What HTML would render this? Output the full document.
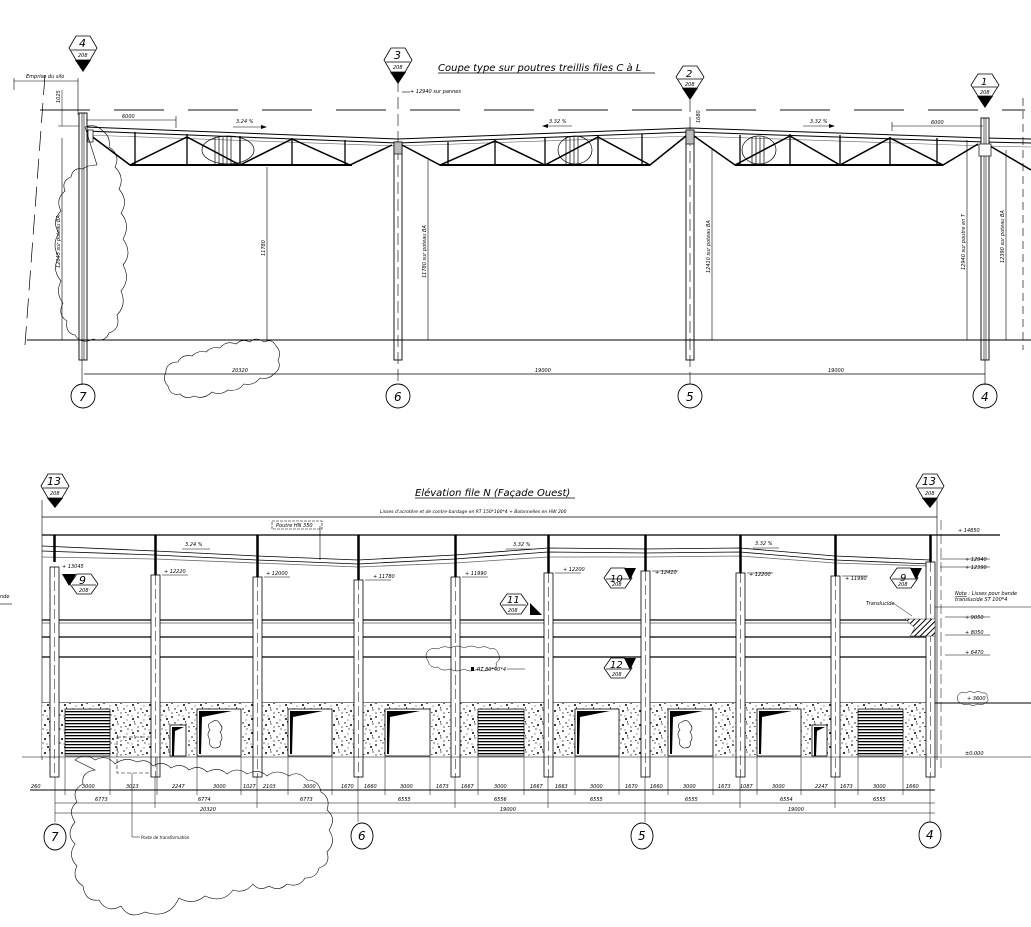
<!DOCTYPE html>
<html><head><meta charset="utf-8"><style>
html,body{margin:0;padding:0;background:#fff;width:1031px;height:927px;overflow:hidden}
svg{display:block}
text{font-family:"DejaVu Sans","Liberation Sans",sans-serif;font-style:italic;fill:#000}
.s{font-size:5px}.m{font-size:7px}
</style></head><body>
<svg width="1031" height="927" viewBox="0 0 1031 927" xmlns="http://www.w3.org/2000/svg">
<defs>
<pattern id="conc" width="17" height="14" patternUnits="userSpaceOnUse">
<rect width="17" height="14" fill="#fff"/>
<g fill="#000"><circle cx="2" cy="3" r=".9"/><circle cx="9" cy="1" r=".6"/><circle cx="14" cy="5" r="1"/><circle cx="5" cy="9" r=".7"/><circle cx="11" cy="11" r="1"/><circle cx="16" cy="10" r=".6"/><circle cx="2" cy="13" r=".6"/><circle cx="8" cy="6" r=".5"/><circle cx="13" cy="2" r=".5"/><rect x="6" y="12" width="1.6" height=".7"/><rect x="15" y="7" width=".7" height="1.6"/></g>
</pattern>
<pattern id="shut" width="4" height="3" patternUnits="userSpaceOnUse"><rect width="4" height="3" fill="#fff"/><rect width="4" height="1.3" fill="#000"/></pattern>
<pattern id="hatch" width="4" height="4" patternUnits="userSpaceOnUse" patternTransform="rotate(45)"><rect width="4" height="4" fill="#fff"/><rect width="1" height="4" fill="#000"/></pattern>
</defs>

<text x="438" y="71" style="font-size:10px">Coupe type sur poutres treillis files C à L</text>
<line x1="438" y1="73" x2="655" y2="73" stroke="#000" stroke-width=".8"/>

<line x1="40" y1="110" x2="1025" y2="110" stroke="#444" stroke-width="1.2" stroke-dasharray="50,24"/>
<line x1="1023" y1="98" x2="1023" y2="350" stroke="#333" stroke-width=".8" stroke-dasharray="8,5"/>
<line x1="45" y1="75" x2="25" y2="345" stroke="#000" stroke-width=".7" stroke-dasharray="20,8"/>
<line x1="14" y1="81" x2="78" y2="81" stroke="#000" stroke-width=".6"/>
<line x1="14" y1="78" x2="14" y2="90" stroke="#000" stroke-width=".6"/>
<line x1="78" y1="78" x2="78" y2="115" stroke="#000" stroke-width=".6"/>
<text x="26" y="78" class="s">Emprise du silo</text>
<line x1="62" y1="90" x2="62" y2="126" stroke="#000" stroke-width=".5"/>
<text x="0" y="0" class="s" transform="translate(60,103) rotate(-90)">1025</text>
<line x1="58" y1="126" x2="90" y2="126" stroke="#000" stroke-width=".5"/>

<polyline points="85,127 398,139 690,128 985,138 1031,139" fill="none" stroke="#000" stroke-width="1"/>
<polyline points="85,131 398,143 690,132 985,142 1031,143" fill="none" stroke="#000" stroke-width="1"/>
<polyline points="85,135 398,146 690,136 985,146 1031,147" fill="none" stroke="#666" stroke-width=".6"/>
<g stroke="#000" stroke-width="2">
<line x1="130" y1="165" x2="352" y2="165"/><line x1="440" y1="165" x2="650" y2="165"/><line x1="735" y1="165" x2="943" y2="165"/>
</g>
<g fill="none" stroke="#000" stroke-width="1.5">
<polyline points="90,135 130,165 187,137 240,165 292,139 350,165 392,145"/>
<polyline points="402,145 440,165 495,141 545,165 598,137 650,165 686,136"/>
<polyline points="694,136 735,165 790,136 840,165 890,138 943,165 978,144"/>
<polyline points="990,146 1031,170"/>
</g>
<g stroke="#000" stroke-width="1.3">
<line x1="135" y1="132" x2="135" y2="165"/><line x1="187" y1="134" x2="187" y2="165"/><line x1="240" y1="136" x2="240" y2="165"/><line x1="292" y1="138" x2="292" y2="165"/><line x1="345" y1="140" x2="345" y2="165"/>
<line x1="448" y1="142" x2="448" y2="165"/><line x1="495" y1="140" x2="495" y2="165"/><line x1="545" y1="138" x2="545" y2="165"/><line x1="598" y1="136" x2="598" y2="165"/><line x1="642" y1="134" x2="642" y2="165"/>
<line x1="740" y1="135" x2="740" y2="165"/><line x1="790" y1="134" x2="790" y2="165"/><line x1="840" y1="135" x2="840" y2="165"/><line x1="890" y1="137" x2="890" y2="165"/><line x1="937" y1="138" x2="937" y2="165"/>
</g>
<g stroke="#000" stroke-width=".7" fill="none">
<ellipse cx="228" cy="150" rx="26" ry="14"/><line x1="215" y1="137" x2="215" y2="165"/><line x1="219" y1="137" x2="219" y2="165"/><line x1="223" y1="137" x2="223" y2="165"/><line x1="227" y1="137" x2="227" y2="165"/><line x1="231" y1="137" x2="231" y2="165"/>
<ellipse cx="575" cy="150" rx="17" ry="14"/><line x1="566" y1="137" x2="566" y2="165"/><line x1="570" y1="137" x2="570" y2="165"/><line x1="574" y1="137" x2="574" y2="165"/><line x1="578" y1="137" x2="578" y2="165"/>
<ellipse cx="759" cy="150" rx="17" ry="14"/><line x1="752" y1="137" x2="752" y2="165"/><line x1="756" y1="137" x2="756" y2="165"/><line x1="760" y1="137" x2="760" y2="165"/><line x1="764" y1="137" x2="764" y2="165"/>
</g>

<g fill="#fff" stroke="#000" stroke-width=".9">
<rect x="79" y="113" width="8" height="247"/>
<rect x="394" y="142" width="8" height="218"/>
<rect x="686" y="130" width="8" height="230"/>
<rect x="981" y="118" width="8" height="242"/>
</g>
<g stroke="#000" stroke-width=".6">
<line x1="82" y1="113" x2="82" y2="360"/><line x1="84" y1="113" x2="84" y2="360"/>
<line x1="984" y1="118" x2="984" y2="360"/><line x1="986" y1="118" x2="986" y2="360"/>
<line x1="398" y1="80" x2="398" y2="385" stroke-dasharray="12,5"/>
<line x1="690" y1="100" x2="690" y2="385" stroke-dasharray="12,5"/>
<line x1="82" y1="360" x2="82" y2="385"/><line x1="985" y1="360" x2="985" y2="385"/>
</g>
<rect x="88" y="130" width="5" height="12" fill="#fff" stroke="#000" stroke-width=".7"/>
<rect x="686" y="130" width="8" height="14" fill="#bbb" stroke="#000" stroke-width=".7"/>
<rect x="394" y="142" width="8" height="12" fill="#bbb" stroke="#000" stroke-width=".7"/>
<rect x="979" y="144" width="12" height="12" fill="#fff" stroke="#000" stroke-width=".7"/>

<line x1="27" y1="340" x2="1031" y2="340" stroke="#000" stroke-width=".9"/>
<g stroke="#000" stroke-width=".6">
<line x1="62" y1="138" x2="62" y2="340"/><line x1="267" y1="167" x2="267" y2="340"/><line x1="428" y1="160" x2="428" y2="340"/><line x1="712" y1="148" x2="712" y2="340"/><line x1="967" y1="140" x2="967" y2="340"/><line x1="1006" y1="150" x2="1006" y2="340"/>
</g>
<text class="s" transform="translate(60,268) rotate(-90)">12045 sur poteau BA</text>
<text class="s" transform="translate(265,256) rotate(-90)">11780</text>
<text class="s" transform="translate(426,278) rotate(-90)">11780 sur poteau BA</text>
<text class="s" transform="translate(710,273) rotate(-90)">12410 sur poteau BA</text>
<text class="s" transform="translate(965,270) rotate(-90)">12940 sur poutre en T</text>
<text class="s" transform="translate(1004,263) rotate(-90)">12390 sur poteau BA</text>
<text x="236" y="123" class="s">3.24 %</text><line x1="233" y1="127" x2="265" y2="127" stroke="#000" stroke-width=".6"/><polygon points="267,127 261,125 261,129"/>
<text x="549" y="123" class="s">3.32 %</text><line x1="545" y1="126" x2="572" y2="126" stroke="#000" stroke-width=".6"/><polygon points="542,126 548,124 548,128"/>
<text x="810" y="123" class="s">3.32 %</text><line x1="803" y1="126" x2="833" y2="126" stroke="#000" stroke-width=".6"/><polygon points="835,126 829,124 829,128"/>
<line x1="86" y1="120" x2="176" y2="120" stroke="#000" stroke-width=".6"/><line x1="176" y1="116" x2="176" y2="128" stroke="#000" stroke-width=".6"/><text x="122" y="118" class="s">6000</text>
<line x1="892" y1="126" x2="983" y2="126" stroke="#000" stroke-width=".6"/><line x1="892" y1="122" x2="892" y2="131" stroke="#000" stroke-width=".6"/><text x="931" y="124" class="s">6000</text>
<text class="s" transform="translate(700,123) rotate(-90)">1080</text>
<line x1="402" y1="92" x2="410" y2="92" stroke="#000" stroke-width=".6"/><text x="410" y="93" class="s">+ 12940 sur pannes</text>

<line x1="84" y1="374" x2="985" y2="374" stroke="#000" stroke-width=".7"/>
<text x="232" y="372" class="s">20320</text><text x="535" y="372" class="s">19000</text><text x="828" y="372" class="s">19000</text>
<g fill="none" stroke="#000" stroke-width=".9">
<circle cx="83" cy="396" r="12"/><circle cx="398" cy="396" r="12"/><circle cx="690" cy="396" r="12"/><circle cx="985" cy="396" r="12"/>
</g>
<text x="79" y="401" style="font-size:12px">7</text><text x="394" y="401" style="font-size:12px">6</text><text x="686" y="401" style="font-size:12px">5</text><text x="981" y="401" style="font-size:12px">4</text>

<g fill="none" stroke="#000" stroke-width=".6">
<path d="M85,127 q10,-4 18,4 q8,6 6,16 q12,8 6,20 q10,10 4,22 q10,12 2,24 q10,12 2,26 q10,14 0,26 q8,14 -2,26 q6,14 -4,24 q4,14 -8,18 q-4,10 -16,6 q-12,6 -18,-4 q-10,-2 -8,-14 q-10,-6 -4,-18 q-8,-10 -2,-22 q-10,-12 -2,-24 q-8,-12 0,-24 q-8,-12 2,-22 q-6,-12 4,-20 q-4,-10 6,-14 q2,-10 12,-8 q4,-4 14,-4z"/>
<path d="M166,370 q2,-8 12,-8 q4,-8 14,-6 q6,-6 14,-4 q6,-6 14,-4 q6,-8 16,-4 q6,-6 14,-2 q6,-6 14,0 q8,-4 12,4 q6,6 2,14 q4,8 -4,14 q-6,6 -14,4 q-6,8 -16,6 q-6,8 -16,6 q-8,6 -16,2 q-8,8 -18,4 q-8,4 -14,-2 q-10,2 -12,-8 q-6,-6 -2,-14z"/>
</g>

<g stroke="#000" stroke-width=".8" fill="#fff">
<polygon points="69,48 76,36 90,36 97,48 90,60 76,60"/><line x1="71" y1="50" x2="95" y2="50"/>
<polygon points="384,60 391,48 405,48 412,60 405,72 391,72"/><line x1="386" y1="62" x2="410" y2="62"/>
<polygon points="676,77 683,66 697,66 704,77 697,88 683,88"/><line x1="678" y1="79" x2="702" y2="79"/>
<polygon points="971,85 978,74 992,74 999,85 992,96 978,96"/><line x1="973" y1="87" x2="997" y2="87"/>
</g>
<polygon points="75,60 91,60 83,72" fill="#000"/><polygon points="390,72 406,72 398,84" fill="#000"/>
<polygon points="682,88 698,88 690,100" fill="#000"/><polygon points="977,96 993,96 985,108" fill="#000"/>
<text x="79" y="47" style="font-size:11px">4</text><text x="78" y="57" class="s">208</text>
<text x="394" y="59" style="font-size:11px">3</text><text x="393" y="69" class="s">208</text>
<text x="686" y="77" style="font-size:10px">2</text><text x="685" y="86" class="s">208</text>
<text x="981" y="85" style="font-size:10px">1</text><text x="980" y="94" class="s">208</text>

<text x="415" y="496" style="font-size:10px">Elévation file N (Façade Ouest)</text>
<line x1="415" y1="498" x2="575" y2="498" stroke="#000" stroke-width=".8"/>
<g stroke="#000" stroke-width=".8" fill="#fff">
<polygon points="41,486 48,474 62,474 69,486 62,498 48,498"/><line x1="43" y1="488" x2="67" y2="488"/>
<polygon points="916,486 923,474 937,474 944,486 937,498 923,498"/><line x1="918" y1="488" x2="942" y2="488"/>
</g>
<polygon points="47,498 63,498 55,508" fill="#000"/><polygon points="922,498 938,498 930,508" fill="#000"/>
<text x="47" y="485" style="font-size:11px">13</text><text x="50" y="495" class="s">208</text>
<text x="922" y="485" style="font-size:11px">13</text><text x="925" y="495" class="s">208</text>

<line x1="42" y1="500" x2="42" y2="760" stroke="#000" stroke-width=".6"/>
<line x1="937" y1="500" x2="937" y2="760" stroke="#000" stroke-width=".6"/>
<line x1="42" y1="517" x2="937" y2="517" stroke="#000" stroke-width=".7"/>
<text x="380" y="513" class="s" style="font-size:4.5px">Lisses d'acrotère et de contre-bardage en RT 150*100*4 + Bolonnelles en HW 200</text>
<line x1="42" y1="535" x2="1000" y2="535" stroke="#000" stroke-width="1.3"/>
<text x="958" y="532" class="s">+ 14850</text>

<g fill="none" stroke="#000" stroke-width=".8">
<polyline points="42,546 155,551 257,556 358,560 455,555 548,548 645,549 740,548 835,556 930,560"/>
<polyline points="42,551 155,555 257,560 358,564 455,559 548,552 645,553 740,552 835,560 930,564"/>
<polyline points="42,557 155,559 257,563 358,567 455,563 548,557 645,557 740,556 835,563 930,566" stroke="#666"/>
</g>
<rect x="272" y="521" width="50" height="8" fill="#fff" stroke="#000" stroke-width=".6" stroke-dasharray="3,1"/>
<text x="276" y="527" class="s">Poutre HN 350</text>
<line x1="320" y1="526" x2="320" y2="560" stroke="#000" stroke-width=".6"/>
<text x="185" y="546" class="s">3.24 %</text><line x1="182" y1="549" x2="210" y2="549" stroke="#000" stroke-width=".5"/>
<text x="513" y="546" class="s">3.32 %</text><line x1="506" y1="549" x2="532" y2="549" stroke="#000" stroke-width=".5"/>
<text x="755" y="545" class="s">3.32 %</text><line x1="753" y1="548" x2="779" y2="548" stroke="#000" stroke-width=".5"/>

<g stroke="#000">
<line x1="42" y1="620" x2="935" y2="620" stroke-width="1.3"/><line x1="42" y1="623" x2="935" y2="623" stroke-width=".5"/>
<line x1="42" y1="637" x2="935" y2="637" stroke-width="1.3"/>
<line x1="42" y1="657" x2="935" y2="657" stroke-width="1.3"/>
<line x1="42" y1="703" x2="1031" y2="703" stroke-width="1"/>
</g>

<rect x="42" y="703" width="893" height="53" fill="url(#conc)"/>
<g stroke="#000" stroke-width=".7">
<rect x="65" y="709" width="45" height="47" fill="url(#shut)"/>
<rect x="478" y="709" width="46" height="47" fill="url(#shut)"/>
<rect x="858" y="709" width="45" height="47" fill="url(#shut)"/>
</g>
<g stroke="#000" stroke-width=".8" fill="#fff">
<rect x="197" y="709" width="44" height="47"/><rect x="288" y="709" width="44" height="47"/><rect x="385" y="709" width="45" height="47"/>
<rect x="575" y="709" width="44" height="47"/><rect x="668" y="709" width="45" height="47"/><rect x="757" y="709" width="44" height="47"/>
<rect x="170" y="725" width="16" height="31"/><rect x="812" y="725" width="15" height="31"/>
</g>
<g fill="#000">
<polygon points="199,711 232,711 202,717 201,754 199,754"/><polygon points="290,711 323,711 293,717 292,754 290,754"/>
<polygon points="387,711 420,711 390,717 389,754 387,754"/><polygon points="577,711 610,711 580,717 579,754 577,754"/>
<polygon points="670,711 703,711 673,717 672,754 670,754"/><polygon points="759,711 792,711 762,717 761,754 759,754"/>
<polygon points="172,727 184,727 175,731 174,756 172,756"/><polygon points="814,727 825,727 817,731 816,756 814,756"/>
</g>
<g fill="none" stroke="#000" stroke-width=".6">
<path d="M212,722 q5,-4 8,2 q4,4 0,8 q4,6 0,10 q2,6 -6,6 q-6,-2 -4,-8 q-4,-6 0,-10 q-4,-6 2,-8z"/>
<path d="M682,722 q5,-4 8,2 q4,4 0,8 q4,6 0,10 q2,6 -6,6 q-6,-2 -4,-8 q-4,-6 0,-10 q-4,-6 2,-8z"/>
<rect x="117" y="737" width="40" height="36" stroke-dasharray="4,2"/>
</g>

<g fill="#fff" stroke="#000" stroke-width=".8">
<rect x="50" y="567" width="9" height="210"/>
<rect x="151" y="575" width="9" height="202"/>
<rect x="253" y="577" width="9" height="200"/>
<rect x="354" y="580" width="9" height="197"/>
<rect x="451" y="577" width="9" height="200"/>
<rect x="544" y="573" width="9" height="204"/>
<rect x="641" y="571" width="9" height="206"/>
<rect x="736" y="573" width="9" height="204"/>
<rect x="831" y="576" width="9" height="201"/>
<rect x="926" y="562" width="9" height="215"/>
</g>
<g stroke="#000" stroke-width="2.5">
<line x1="54.5" y1="535" x2="54.5" y2="562"/><line x1="155.5" y1="535" x2="155.5" y2="575"/><line x1="257.5" y1="535" x2="257.5" y2="577"/><line x1="358.5" y1="535" x2="358.5" y2="580"/><line x1="455.5" y1="535" x2="455.5" y2="577"/><line x1="548.5" y1="535" x2="548.5" y2="573"/><line x1="645.5" y1="535" x2="645.5" y2="571"/><line x1="740.5" y1="535" x2="740.5" y2="573"/><line x1="835.5" y1="535" x2="835.5" y2="576"/><line x1="930.5" y1="535" x2="930.5" y2="562"/>
</g>
<g stroke="#000" stroke-width=".5" stroke-dasharray="10,4">
<line x1="54.5" y1="567" x2="54.5" y2="777"/><line x1="155.5" y1="575" x2="155.5" y2="777"/><line x1="257.5" y1="577" x2="257.5" y2="777"/><line x1="358.5" y1="580" x2="358.5" y2="777"/><line x1="455.5" y1="577" x2="455.5" y2="777"/><line x1="548.5" y1="573" x2="548.5" y2="777"/><line x1="645.5" y1="571" x2="645.5" y2="777"/><line x1="740.5" y1="573" x2="740.5" y2="777"/><line x1="835.5" y1="576" x2="835.5" y2="777"/><line x1="930.5" y1="562" x2="930.5" y2="777"/>
<line x1="941" y1="520" x2="941" y2="770"/>
</g>
<g stroke="#000" stroke-width=".6">
<line x1="162" y1="575" x2="188" y2="575"/><line x1="264" y1="577" x2="290" y2="577"/><line x1="365" y1="580" x2="391" y2="580"/><line x1="462" y1="577" x2="488" y2="577"/><line x1="555" y1="573" x2="581" y2="573"/><line x1="652" y1="571" x2="678" y2="571"/><line x1="747" y1="573" x2="773" y2="573"/><line x1="842" y1="576" x2="868" y2="576"/>
<line x1="940" y1="559" x2="990" y2="559"/><line x1="940" y1="567" x2="990" y2="567"/><line x1="945" y1="617" x2="990" y2="617"/><line x1="945" y1="635" x2="990" y2="635"/><line x1="945" y1="655" x2="990" y2="655"/><line x1="935" y1="757" x2="1031" y2="757"/><line x1="22" y1="757" x2="42" y2="757"/><line x1="42" y1="757" x2="935" y2="757"/>
<line x1="935" y1="607" x2="1031" y2="607"/>
</g>
<text x="62" y="568" class="s">+ 13045</text>
<text x="164" y="573" class="s">+ 12220</text><text x="266" y="575" class="s">+ 12000</text><text x="373" y="578" class="s">+ 11780</text>
<text x="465" y="575" class="s">+ 11990</text><text x="563" y="571" class="s">+ 12200</text><text x="655" y="574" class="s">+ 12410</text>
<text x="749" y="576" class="s">+ 12200</text><text x="845" y="580" class="s">+ 11990</text>
<text x="965" y="561" class="s">+ 12940</text><text x="965" y="569" class="s">+ 12390</text>
<text x="965" y="619" class="s">+ 9050</text><text x="965" y="634" class="s">+ 8050</text><text x="965" y="654" class="s">+ 6470</text>
<text x="965" y="755" class="s">±0.000</text>
<text x="967" y="700" class="s">+ 3600</text>
<path d="M958,695 q3,-4 8,-2 q4,-3 8,0 q4,-3 8,0 q6,-1 5,4 q3,4 -2,6 q-3,3 -8,1 q-4,3 -8,0 q-5,2 -8,-1 q-5,-1 -3,-8z" fill="none" stroke="#000" stroke-width=".5"/>
<text x="955" y="595" class="s"><tspan text-decoration="underline">Note</tspan> : Lisses pour bande</text>
<text x="955" y="601" class="s">translucide ST 100*4</text>
<text x="866" y="605" class="s">Translucide</text>
<line x1="893" y1="603" x2="912" y2="616" stroke="#000" stroke-width=".5"/>
<polygon points="905,619 935,619 935,636 910,636 915,628" fill="url(#hatch)" stroke="#000" stroke-width=".4"/>
<text x="0" y="598" class="s">nde</text><line x1="0" y1="604" x2="12" y2="604" stroke="#000" stroke-width=".6"/>

<g stroke="#000" stroke-width=".8" fill="#fff">
<polygon points="70,584 77,574 91,574 98,584 91,594 77,594"/><line x1="72" y1="585" x2="96" y2="585"/>
<polygon points="604,578 611,568 625,568 632,578 625,588 611,588"/><line x1="606" y1="579" x2="630" y2="579"/>
<polygon points="890,578 897,568 911,568 918,578 911,588 897,588"/><line x1="892" y1="579" x2="916" y2="579"/>
<polygon points="500,604 507,594 521,594 528,604 521,614 507,614"/><line x1="502" y1="605" x2="526" y2="605"/>
<polygon points="604,668 611,658 625,658 632,668 625,678 611,678"/><line x1="606" y1="669" x2="630" y2="669"/>
</g>
<polygon points="62,574 76,574 69,586" fill="#000"/>
<polygon points="624,568 636,568 630,580" fill="#000"/>
<polygon points="910,568 922,568 916,580" fill="#000"/>
<polygon points="530,615 542,615 530,603" fill="#000"/>
<polygon points="624,658 636,658 630,670" fill="#000"/>
<text x="79" y="584" style="font-size:11px">9</text><text x="79" y="592" class="s">208</text>
<text x="610" y="582" style="font-size:10px">10</text><text x="612" y="586" class="s">208</text>
<text x="900" y="581" style="font-size:10px">9</text><text x="898" y="586" class="s">208</text>
<text x="507" y="603" style="font-size:10px">11</text><text x="508" y="612" class="s">208</text>
<text x="610" y="668" style="font-size:10px">12</text><text x="612" y="676" class="s">208</text>
<path d="M428,651 q4,-4 10,-2 q6,-4 12,-1 q8,-4 14,0 q8,-4 14,0 q8,-3 12,1 q6,-2 8,4 q4,6 -2,10 q2,6 -6,6 q-6,4 -12,0 q-8,4 -14,0 q-8,4 -14,0 q-8,3 -12,-2 q-8,2 -10,-6 q-4,-6 0,-10z" fill="none" stroke="#000" stroke-width=".5"/>
<rect x="471" y="667" width="3" height="4" fill="#000"/><text x="477" y="671" class="s">RT 80*40*4</text>
<line x1="507" y1="669" x2="525" y2="669" stroke="#000" stroke-width=".5"/>

<line x1="30" y1="790" x2="935" y2="790" stroke="#000" stroke-width=".9"/>
<line x1="55" y1="803" x2="935" y2="803" stroke="#000" stroke-width=".6"/>
<line x1="55" y1="813" x2="935" y2="813" stroke="#000" stroke-width=".6"/>
<g stroke="#000" stroke-width=".5">
<line x1="65" y1="757" x2="65" y2="795"/><line x1="110" y1="757" x2="110" y2="795"/><line x1="157" y1="757" x2="157" y2="795"/><line x1="197" y1="757" x2="197" y2="795"/><line x1="241" y1="757" x2="241" y2="795"/><line x1="288" y1="757" x2="288" y2="795"/><line x1="332" y1="757" x2="332" y2="795"/><line x1="385" y1="757" x2="385" y2="795"/><line x1="430" y1="757" x2="430" y2="795"/><line x1="478" y1="757" x2="478" y2="795"/><line x1="524" y1="757" x2="524" y2="795"/><line x1="575" y1="757" x2="575" y2="795"/><line x1="619" y1="757" x2="619" y2="795"/><line x1="668" y1="757" x2="668" y2="795"/><line x1="713" y1="757" x2="713" y2="795"/><line x1="757" y1="757" x2="757" y2="795"/><line x1="801" y1="757" x2="801" y2="795"/><line x1="858" y1="757" x2="858" y2="795"/><line x1="903" y1="757" x2="903" y2="795"/>
<line x1="55" y1="777" x2="55" y2="822"/><line x1="155" y1="777" x2="155" y2="808"/><line x1="257" y1="777" x2="257" y2="808"/><line x1="358" y1="777" x2="358" y2="822"/><line x1="455" y1="777" x2="455" y2="808"/><line x1="548" y1="777" x2="548" y2="808"/><line x1="645" y1="777" x2="645" y2="822"/><line x1="740" y1="777" x2="740" y2="808"/><line x1="835" y1="777" x2="835" y2="808"/><line x1="930" y1="777" x2="930" y2="822"/>
</g>
<g style="font-size:4.5px">
<text x="31" y="788" class="s">260</text><text x="82" y="788" class="s">3000</text><text x="126" y="788" class="s">3013</text><text x="172" y="788" class="s">2247</text><text x="213" y="788" class="s">3000</text><text x="243" y="788" class="s">1027</text><text x="263" y="788" class="s">2103</text><text x="303" y="788" class="s">3000</text><text x="341" y="788" class="s">1670</text><text x="364" y="788" class="s">1660</text><text x="400" y="788" class="s">3000</text><text x="436" y="788" class="s">1673</text><text x="461" y="788" class="s">1667</text><text x="494" y="788" class="s">3000</text><text x="530" y="788" class="s">1667</text><text x="555" y="788" class="s">1663</text><text x="590" y="788" class="s">3000</text><text x="625" y="788" class="s">1670</text><text x="650" y="788" class="s">1660</text><text x="683" y="788" class="s">3000</text><text x="718" y="788" class="s">1673</text><text x="740" y="788" class="s">1087</text><text x="772" y="788" class="s">3000</text><text x="815" y="788" class="s">2247</text><text x="840" y="788" class="s">1673</text><text x="873" y="788" class="s">3000</text><text x="906" y="788" class="s">1660</text>
<text x="95" y="801" class="s">6773</text><text x="198" y="801" class="s">6774</text><text x="300" y="801" class="s">6773</text><text x="398" y="801" class="s">6555</text><text x="494" y="801" class="s">6556</text><text x="590" y="801" class="s">6555</text><text x="685" y="801" class="s">6555</text><text x="780" y="801" class="s">6554</text><text x="873" y="801" class="s">6555</text>
<text x="200" y="811" class="s">20320</text><text x="500" y="811" class="s">19000</text><text x="788" y="811" class="s">19000</text>
</g>
<line x1="132" y1="773" x2="132" y2="837" stroke="#000" stroke-width=".5"/><line x1="132" y1="837" x2="140" y2="837" stroke="#000" stroke-width=".5"/>
<text x="141" y="839" class="s" style="font-size:4px">Poste de transformation</text>
<g fill="none" stroke="#000" stroke-width=".9">
<ellipse cx="55" cy="837" rx="11" ry="13"/><ellipse cx="362" cy="836" rx="11" ry="13"/><ellipse cx="642" cy="836" rx="11" ry="13"/><ellipse cx="930" cy="835" rx="11" ry="13"/>
</g>
<text x="51" y="841" style="font-size:12px">7</text><text x="358" y="840" style="font-size:12px">6</text><text x="638" y="840" style="font-size:12px">5</text><text x="926" y="839" style="font-size:12px">4</text>
<path d="M75,760 q10,-8 20,0 q12,-6 20,4 q10,-8 22,-2 q10,-4 16,4 q10,-6 18,2 q10,-6 18,2 q10,-6 18,2 q12,-6 20,2 q10,-8 20,0 q12,-6 20,2 q10,-8 22,0 q10,-6 18,4 q12,0 14,12 q10,6 6,18 q10,8 2,20 q8,12 -2,22 q4,12 -8,16 q-2,10 -14,10 q-6,10 -18,6 q-8,8 -18,2 q-10,6 -16,-2 q-8,10 -20,6 q-10,14 -28,6 q-12,10 -26,2 q-10,22 -34,14 q-16,8 -24,-6 q-14,8 -22,-6 q-14,2 -16,-14 q-12,-8 -6,-20 q-10,-10 -2,-22 q-10,-10 0,-22 q-8,-12 2,-20 q-6,-12 6,-18 q-2,-12 12,-14z" fill="none" stroke="#000" stroke-width=".6"/>
</svg>
</body></html>
